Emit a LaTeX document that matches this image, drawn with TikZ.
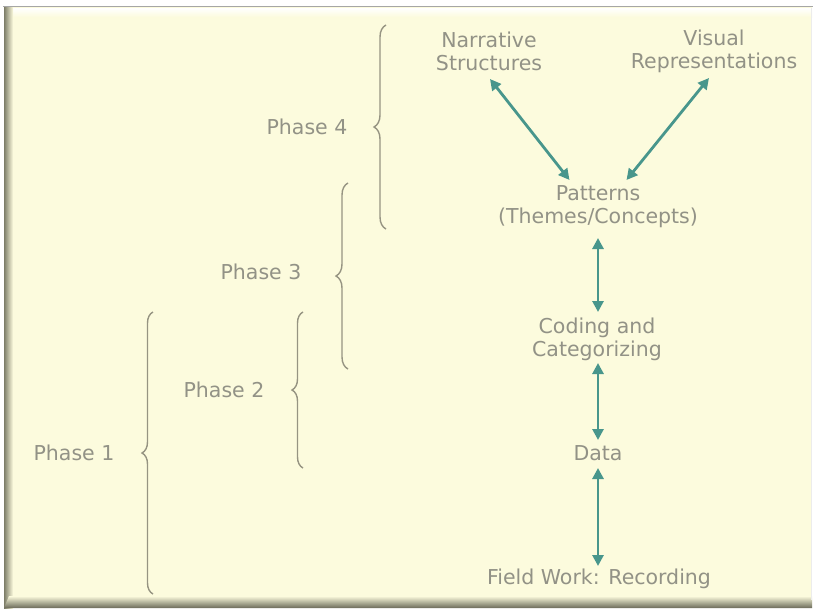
\documentclass[tikz,border=0pt]{standalone}
\usepackage{fontspec}
\setmainfont{DejaVu Sans}
\usetikzlibrary{arrows.meta,decorations.pathreplacing,calc}
\definecolor{panel}{RGB}{252,251,221}
\definecolor{txt}{RGB}{146,146,134}
\definecolor{teal}{RGB}{72,150,140}
\definecolor{brc}{RGB}{150,148,130}
\definecolor{edge}{RGB}{125,125,104}
\tikzset{
  lbl/.style={text=txt, align=center, inner sep=0pt, font=\fontsize{20.5}{23}\selectfont},
  arr/.style={draw=teal, line width=2.8pt, {Triangle[length=11pt,width=11pt]}-{Triangle[length=11pt,width=11pt]}},
  brc/.style={draw=brc, line width=1.4pt, decorate, decoration={brace, amplitude=#1}},
}
\begin{document}
\begin{tikzpicture}[x=1pt, y=-1pt]
\useasboundingbox (0,0) rectangle (816,613);
% frame
\fill[white] (0,0) rectangle (816,613);
\fill[panel] (5,7) rectangle (812,608);
\shade[top color=white, bottom color=panel] (9,8) rectangle (812,17);
\shade[left color=edge, right color=panel] (4,7) rectangle (13,608);
\shade[top color=panel, bottom color=edge!85!black] (9,596) -- (812,596) -- (812,608) -- (4,608) -- cycle;
\draw[gray!70, line width=1.2pt] (3,6.5) -- (813,6.5);
\draw[white!85!gray, line width=1pt] (811.5,8) -- (811.5,600);

% nodes
\node[lbl] (ns)  at (489,51)    {Narrative\\Structures};
\node[lbl] (vr)  at (714,51)    {Visual\\Representations};
\node[lbl] (pat) at (598,206.5) {Patterns\\(Themes/Concepts)};
\node[lbl] (cod) at (597,339)   {Coding and\\Categorizing};
\node[lbl] (dat) at (598,453)   {Data};
\node[lbl] (fw)  at (599,579)   {Field Work: Recording};

\node[lbl] (p4) at (307,127) {Phase 4};
\node[lbl] (p3) at (261,272) {Phase 3};
\node[lbl] (p2) at (224,390) {Phase 2};
\node[lbl] (p1) at (74,453)  {Phase 1};

% connector end points
\coordinate (nsB)  at ($(ns)+(1,28)$);
\coordinate (vrB)  at ($(vr)+(-5,27)$);
\coordinate (patL) at ($(pat)+(-28.5,-26.5)$);
\coordinate (patR) at ($(pat)+(28.5,-26.5)$);
\coordinate (patB) at ($(pat)+(0,31.5)$);
\coordinate (codT) at ($(cod)+(1,-27)$);
\coordinate (codB) at ($(cod)+(1,24)$);
\coordinate (datT) at ($(dat)+(0,-13)$);
\coordinate (datB) at ($(dat)+(0,15)$);
\coordinate (fwT)  at ($(fw)+(-1,-13)$);

\draw[arr] (nsB) -- (patL);
\draw[arr] (vrB) -- (patR);
\draw[arr] (patB) -- (codT);
\draw[arr] (codB) -- (datT);
\draw[arr] (datB) -- (fwT);

% braces
\coordinate (b4t) at (386,25);  \coordinate (b4b) at (386,229);
\coordinate (b3t) at (348,183); \coordinate (b3b) at (348,369);
\coordinate (b2t) at (303,312); \coordinate (b2b) at (303,468);
\coordinate (b1t) at (153,312); \coordinate (b1b) at (153,594);
\draw[brc=12pt] (b4b) -- (b4t);
\draw[brc=12pt] (b3b) -- (b3t);
\draw[brc=11pt] (b2b) -- (b2t);
\draw[brc=11pt] (b1b) -- (b1t);
\end{tikzpicture}
\end{document}
